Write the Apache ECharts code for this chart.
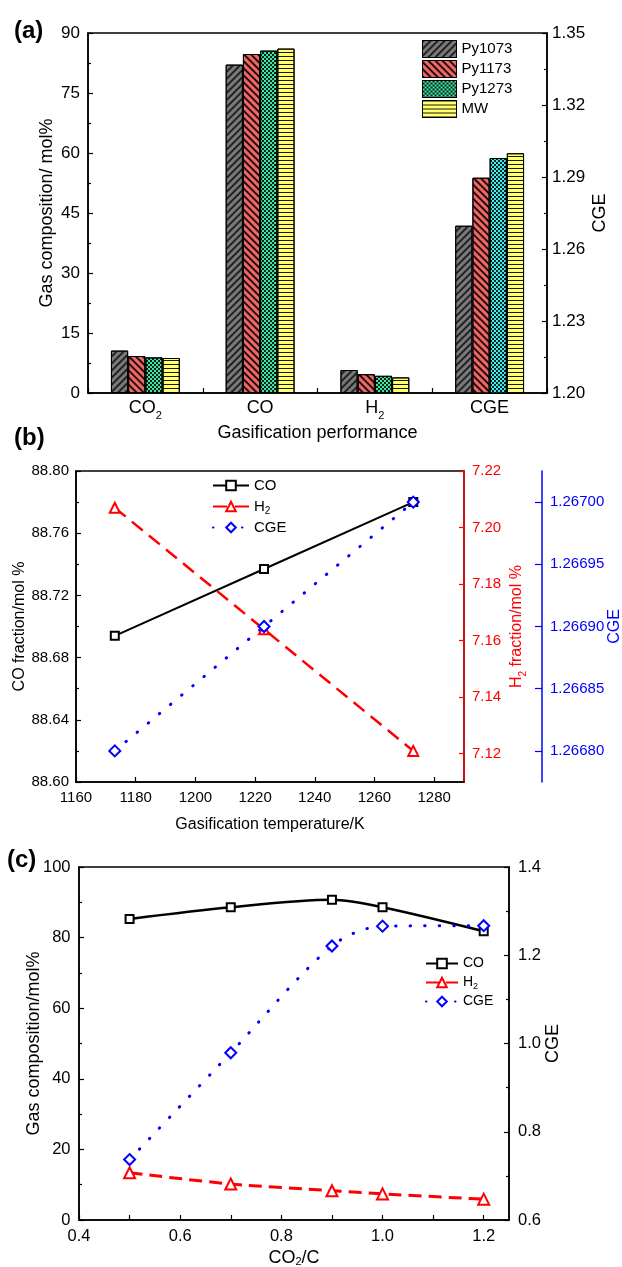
<!DOCTYPE html>
<html><head><meta charset="utf-8">
<script src="https://cdn.jsdelivr.net/npm/echarts@6/dist/echarts.min.js"></script>
<style>html,body{margin:0;padding:0;background:#fff}#c{width:622px;height:1267px}</style>
</head><body><div id="c"></div>
<script>
// ---------- data: panel (a) ----------
const aCategories = ['CO2', 'CO', 'H2', 'CGE'];
const aSeriesNames = ['Py1073', 'Py1173', 'Py1273', 'MW'];
const aPy1073 = [10.6, 82.1, 5.75];
const aPy1173 = [9.25, 84.75, 4.7];
const aPy1273 = [8.9, 85.6, 4.3];
const aMW = [8.75, 86.1, 3.9];
const aCGE = [1.2697, 1.2897, 1.2979, 1.2999];   // CGE bars, one per series (right axis)
// ---------- data: panel (b) ----------
const bTemp = [1173, 1223, 1273];
const bCO = [88.694, 88.737, 88.780];
const bH2 = [7.207, 7.164, 7.121];
const bCGE = [1.26680, 1.26690, 1.26700];
const bXTicks = [1160, 1180, 1200, 1220, 1240, 1260, 1280];
const bH2Ticks = [7.12, 7.14, 7.16, 7.18, 7.20, 7.22];
const bCGETicks = [1.26680, 1.26685, 1.26690, 1.26695, 1.26700];
// ---------- data: panel (c) ----------
const cRatio = [0.5, 0.7, 0.9, 1.0, 1.2];
const cCO = [85.3, 88.6, 90.7, 88.6, 81.8];
const cH2 = [13.4, 10.2, 8.3, 7.4, 5.9];
const cCGE = [0.737, 0.979, 1.221, 1.266, 1.267];
const cXLabels = [0.4, 0.6, 0.8, 1.0, 1.2];
const cXTicks = [0.4, 0.5, 0.6, 0.7, 0.8, 0.9, 1.0, 1.1, 1.2];

const FONT = '"Liberation Sans", Arial, Helvetica, sans-serif';
function subText(s) { return s.replace(/^(CO|H)2(.*)$/, '$1{s|2}$2'); }
function subRich(fs, color) { return { s: { fontSize: fs, verticalAlign: 'bottom', fontFamily: FONT, color: color } }; }

const aValues = [aPy1073, aPy1173, aPy1273, aMW];
const aStyles = [
  { color: '#7a7a7a', borderColor: '#000', borderWidth: 1,
    decal: { symbol: 'rect', symbolSize: 1, color: 'rgba(30,30,30,0.95)', dashArrayX: [1, 0], dashArrayY: [1.5, 2.5], rotation: -Math.PI / 4 } },
  { color: '#f26666', borderColor: '#000', borderWidth: 1,
    decal: { symbol: 'rect', symbolSize: 1, color: 'rgba(0,0,0,0.85)', dashArrayX: [1, 0], dashArrayY: [1.5, 3], rotation: Math.PI / 4 } },
  { color: '#40e8a8', borderColor: '#000', borderWidth: 1,
    decal: { symbol: 'rect', symbolSize: 1, color: 'rgba(0,0,0,0.85)', dashArrayX: [[2, 2], [0, 2, 2, 0]], dashArrayY: [2, 0], rotation: 0 } },
  { color: '#ffff70', borderColor: '#000', borderWidth: 1,
    decal: { symbol: 'rect', symbolSize: 1, color: 'rgba(0,0,0,0.9)', dashArrayX: [1, 0], dashArrayY: [1, 3], rotation: 0 } }
];
const aCGEColors = ['#7a7a7a', '#f26666', '#44eef0', '#ffff70'];

const series = [];
aSeriesNames.forEach(function (n, i) {
  series.push({
    type: 'bar', name: n, xAxisIndex: 0, yAxisIndex: 0,
    data: aValues[i].concat(['-']),
    barGap: '0%', barCategoryGap: '40%',
    itemStyle: aStyles[i], emphasis: { disabled: true }
  });
});
aSeriesNames.forEach(function (n, i) {
  series.push({
    type: 'bar', name: n, xAxisIndex: 1, yAxisIndex: 1,
    data: ['-', '-', '-', aCGE[i]],
    barGap: '0%', barCategoryGap: '40%', clip: true,
    itemStyle: Object.assign({}, aStyles[i], { color: aCGEColors[i] }), emphasis: { disabled: true }
  });
});
function pairs(xs, ys) { return xs.map(function (x, i) { return [x, ys[i]]; }); }
// panel (b)
series.push({ type: 'line', name: 'b:CO', xAxisIndex: 2, yAxisIndex: 2, data: pairs(bTemp, bCO),
  symbol: 'emptyRect', symbolSize: 8, itemStyle: { color: '#000', borderWidth: 1.2 },
  lineStyle: { color: '#000', width: 2 }, emphasis: { disabled: true } });
series.push({ type: 'line', name: 'b:H2', xAxisIndex: 2, yAxisIndex: 3, data: pairs(bTemp, bH2),
  symbol: 'emptyTriangle', symbolSize: 10, itemStyle: { color: '#ff0000', borderWidth: 1.2 },
  lineStyle: { color: '#ff0000', width: 2.5, type: [14, 8] }, emphasis: { disabled: true } });
series.push({ type: 'line', name: 'b:CGE', xAxisIndex: 2, yAxisIndex: 4, data: pairs(bTemp, bCGE),
  symbol: 'emptyDiamond', symbolSize: 11, itemStyle: { color: '#0000ff', borderWidth: 1.2 },
  lineStyle: { color: '#0000ff', width: 3, type: [0.5, 14], cap: 'round' }, emphasis: { disabled: true } });
// panel (c)
series.push({ type: 'line', name: 'c:CO', xAxisIndex: 3, yAxisIndex: 5, data: pairs(cRatio, cCO), smooth: 0.3,
  symbol: 'emptyRect', symbolSize: 8, itemStyle: { color: '#000', borderWidth: 1.2 },
  lineStyle: { color: '#000', width: 2.5 }, emphasis: { disabled: true } });
series.push({ type: 'line', name: 'c:H2', xAxisIndex: 3, yAxisIndex: 5, data: pairs(cRatio, cH2), smooth: 0.3,
  symbol: 'emptyTriangle', symbolSize: 11, itemStyle: { color: '#ff0000', borderWidth: 1.2 },
  lineStyle: { color: '#ff0000', width: 3, type: [13, 7] }, emphasis: { disabled: true } });
series.push({ type: 'line', name: 'c:CGE', xAxisIndex: 3, yAxisIndex: 6, data: pairs(cRatio, cCGE), smooth: 0.3,
  symbol: 'emptyDiamond', symbolSize: 11, itemStyle: { color: '#0000ff', borderWidth: 1.2 },
  lineStyle: { color: '#0000ff', width: 3, type: [0.5, 14], cap: 'round' }, emphasis: { disabled: true } });

function valAxis(o) {
  const color = o.color || '#000';
  const ax = {
    type: 'value', gridIndex: o.grid, position: o.position, offset: o.offset || 0,
    min: o.min, max: o.max, interval: o.interval, scale: true,
    name: o.name, nameLocation: 'middle', nameGap: o.nameGap, nameMoveOverlap: false,
    nameTextStyle: { fontFamily: FONT, fontSize: o.nameSize, color: color, lineHeight: o.nameLH,
      rich: subRich(Math.round(o.nameSize * 0.62), color) },
    axisLine: { show: true, onZero: false, lineStyle: { color: color, width: 1.5 } },
    axisTick: { show: true, inside: true, length: o.tickLen || 5, lineStyle: { color: color, width: 1.2 } },
    minorTick: { show: !!o.minor, splitNumber: 2, length: 3, lineStyle: { color: color, width: 1.2 } },
    splitLine: { show: false },
    axisLabel: { fontFamily: FONT, fontSize: o.labelSize, color: color, margin: o.margin, formatter: o.fmt },
    show: o.show !== false
  };
  if (o.labelValues) ax.axisLabel.customValues = o.labelValues;
  if (o.tickValues) ax.axisTick.customValues = o.tickValues;
  return ax;
}

const gridBase = { show: true, borderColor: '#000', borderWidth: 1.5, backgroundColor: 'transparent',
  containLabel: false, outerBoundsMode: 'none' };

const option = {
  animation: false,
  backgroundColor: '#fff',
  textStyle: { fontFamily: FONT },
  grid: [
    Object.assign({ left: 88, width: 459, top: 33, height: 360 }, gridBase),
    Object.assign({ left: 76, width: 388, top: 471, height: 311 }, gridBase),
    Object.assign({ left: 79, width: 430, top: 867, height: 353 }, gridBase)
  ],
  legend: [
    { data: aSeriesNames, orient: 'vertical', left: 422, top: 40, padding: 0, icon: 'rect', itemWidth: 34, itemHeight: 17, itemGap: 2,
      textStyle: { fontFamily: FONT, fontSize: 15, color: '#000', lineHeight: 17 }, itemStyle: { borderColor: '#000', borderWidth: 1 } },
    { data: ['b:CO', 'b:H2', 'b:CGE'], orient: 'vertical', left: 212, top: 476, padding: 0, itemWidth: 36, itemHeight: 12, itemGap: 2,
      formatter: function (n) { return subText(n.slice(2)); },
      textStyle: { fontFamily: FONT, fontSize: 15, color: '#000', lineHeight: 19, rich: subRich(10, '#000') } },
    { data: ['c:CO', 'c:H2', 'c:CGE'], orient: 'vertical', left: 425, top: 955, padding: 0, itemWidth: 32, itemHeight: 12, itemGap: 2,
      formatter: function (n) { return subText(n.slice(2)); },
      textStyle: { fontFamily: FONT, fontSize: 14, color: '#000', lineHeight: 17, rich: subRich(9, '#000') } }
  ],
  xAxis: [
    { type: 'category', gridIndex: 0, data: aCategories, boundaryGap: true,
      name: 'Gasification performance', nameLocation: 'middle', nameGap: 31, nameMoveOverlap: false,
      nameTextStyle: { fontFamily: FONT, fontSize: 18, color: '#000' },
      axisLine: { lineStyle: { color: '#000', width: 1.5 } },
      axisTick: { show: true, inside: true, length: 5, alignWithLabel: false, lineStyle: { color: '#000', width: 1.2 } },
      axisLabel: { fontFamily: FONT, fontSize: 18, color: '#000', margin: 2, lineHeight: 26, interval: 0,
        formatter: function (v) { return subText(v); }, rich: subRich(11, '#000') },
      splitLine: { show: false } },
    { type: 'category', gridIndex: 0, data: aCategories, boundaryGap: true, show: false },
    { type: 'value', gridIndex: 1, min: 1160, max: 1290, scale: true,
      name: 'Gasification temperature/K', nameLocation: 'middle', nameGap: 35, nameMoveOverlap: false,
      nameTextStyle: { fontFamily: FONT, fontSize: 16, color: '#000' },
      axisLine: { onZero: false, lineStyle: { color: '#000', width: 1.5 } },
      axisTick: { show: true, inside: true, length: 5, customValues: bXTicks, lineStyle: { color: '#000', width: 1.2 } },
      axisLabel: { fontFamily: FONT, fontSize: 15, color: '#000', margin: 8, customValues: bXTicks,
        formatter: function (v) { return String(Math.round(v)); } },
      splitLine: { show: false } },
    { type: 'value', gridIndex: 2, min: 0.4, max: 1.25, scale: true,
      name: 'CO2/C', nameLocation: 'middle', nameGap: 29, nameMoveOverlap: false,
      nameTextStyle: { fontFamily: FONT, fontSize: 18, color: '#000', rich: subRich(11, '#000') },
      axisLine: { onZero: false, lineStyle: { color: '#000', width: 1.5 } },
      axisTick: { show: true, inside: true, length: 5, customValues: cXTicks, lineStyle: { color: '#000', width: 1.2 } },
      axisLabel: { fontFamily: FONT, fontSize: 16.5, color: '#000', margin: 8, customValues: cXLabels,
        formatter: function (v) { return Number(v).toFixed(1); } },
      splitLine: { show: false } }
  ],
  yAxis: [
    valAxis({ grid: 0, position: 'left', min: 0, max: 90, interval: 15, minor: true,
      name: 'Gas composition/ mol%', nameGap: 32, nameSize: 18, labelSize: 17, margin: 8 }),
    valAxis({ grid: 0, position: 'right', min: 1.2, max: 1.35, interval: 0.03, minor: true,
      name: 'CGE', nameGap: 44, nameSize: 18, labelSize: 17, margin: 5,
      fmt: function (v) { return v.toFixed(2); } }),
    valAxis({ grid: 1, position: 'left', min: 88.6, max: 88.8, interval: 0.04, minor: true,
      name: 'CO fraction/mol %', nameGap: 48, nameSize: 16, labelSize: 15, margin: 7,
      fmt: function (v) { return v.toFixed(2); } }),
    valAxis({ grid: 1, position: 'right', min: 7.11, max: 7.22, color: '#ff0000',
      name: subText('H2 fraction/mol %'), nameGap: 42, nameSize: 16, nameLH: 22, labelSize: 15, margin: 8,
      labelValues: bH2Ticks, tickValues: bH2Ticks,
      fmt: function (v) { return Number(v).toFixed(2); } }),
    valAxis({ grid: 1, position: 'right', offset: 78, min: 1.266775, max: 1.267025, color: '#0000ff',
      name: 'CGE', nameGap: 65, nameSize: 16, labelSize: 15, margin: 8, tickLen: 7,
      labelValues: bCGETicks, tickValues: bCGETicks,
      fmt: function (v) { return Number(v).toFixed(5); } }),
    valAxis({ grid: 2, position: 'left', min: 0, max: 100, interval: 20, minor: true,
      name: 'Gas composition/mol%', nameGap: 36, nameSize: 18, labelSize: 16.5, margin: 8.5 }),
    valAxis({ grid: 2, position: 'right', min: 0.6, max: 1.4, interval: 0.2, minor: true,
      name: 'CGE', nameGap: 35, nameSize: 18, labelSize: 16.5, margin: 9,
      fmt: function (v) { return v.toFixed(1); } })
  ],
  graphic: [
    { type: 'text', left: 14, top: 19, style: { text: '(a)', font: 'bold 24px ' + FONT, fill: '#000' } },
    { type: 'text', left: 14, top: 426, style: { text: '(b)', font: 'bold 24px ' + FONT, fill: '#000' } },
    { type: 'text', left: 7, top: 848, style: { text: '(c)', font: 'bold 24px ' + FONT, fill: '#000' } }
  ],
  series: series
};
option.xAxis[3].name = subText('CO2/C');

const chart = echarts.init(document.getElementById('c'), null, { renderer: 'canvas', width: 622, height: 1267 });
chart.setOption(option);
</script>
</body></html>
